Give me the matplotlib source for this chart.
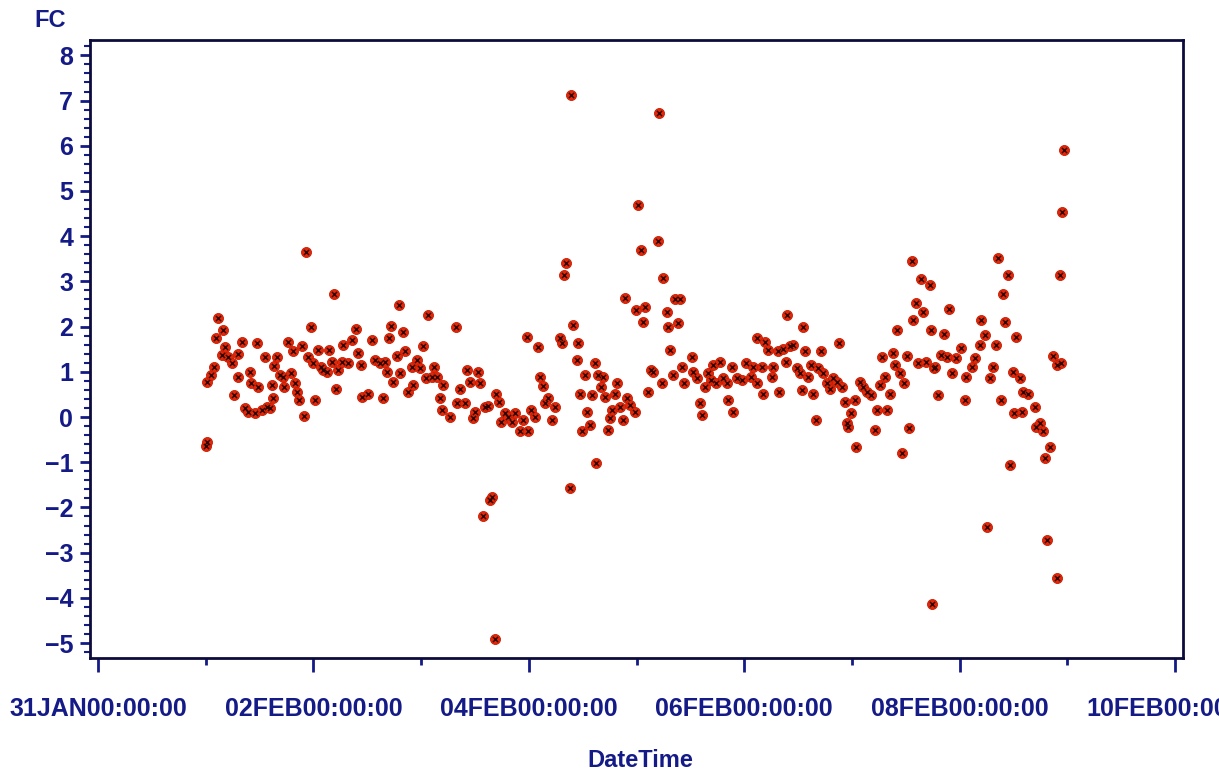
import datetime as dt
import matplotlib
matplotlib.use('Agg')
import matplotlib.pyplot as plt
import matplotlib.dates as mdates
from matplotlib.ticker import MultipleLocator, FuncFormatter

# hours after 01FEB00:00:00 and the FC value
hours = [
    0.0, 0.3, 0.2, 1.2, 1.9, 2.2, 2.7, 3.6, 3.9, 4.3, 5.0, 5.8, 6.4, 7.1, 7.3, 8.0, 8.8, 9.5, 9.9, 10.2,
    11.0, 11.4, 11.7, 12.5, 13.2, 13.6, 14.3, 14.7, 14.9, 15.3, 16.0, 16.6, 17.3, 17.5, 18.3, 19.0, 19.5,
    19.9, 20.3, 20.8, 21.5, 22.0, 22.3, 22.9, 23.5, 24.0, 24.4, 25.1, 25.7, 26.2, 27.0, 27.5, 28.1, 28.7,
    29.0, 29.5, 30.3, 30.7, 31.8, 32.5, 33.4, 34.0, 34.5, 34.8, 36.2, 37.0, 37.7, 38.8, 39.6, 39.9, 40.3,
    40.9, 41.4, 41.8, 42.6, 43.1, 43.4, 43.9, 44.4, 45.1, 45.9, 46.3, 47.1, 47.7, 48.5, 49.2, 49.5, 50.4,
    50.9, 51.6, 52.2, 52.6, 52.9, 54.4, 55.8, 56.1, 56.7, 57.8, 58.3, 58.9, 59.5, 60.0, 60.7, 61.1, 61.8,
    62.2, 63.0, 63.3, 63.7, 64.5, 64.8, 65.4, 65.9, 66.7, 67.4, 68.2, 68.9, 70.0, 70.8, 71.5, 71.9, 72.6,
    73.4, 74.1, 74.5, 75.1, 75.6, 76.3, 77.1, 77.8, 78.9, 79.5, 79.8, 80.4, 81.2, 81.4, 81.9, 82.7, 83.0,
    83.4, 83.8, 84.5, 84.9, 85.6, 86.1, 86.7, 86.9, 87.5, 88.1, 88.6, 89.0, 89.7, 90.1, 90.5, 91.2, 91.6,
    92.3, 93.0, 93.4, 93.8, 94.5, 95.6, 95.9, 96.3, 97.1, 97.5, 97.9, 98.6, 99.2, 99.6, 100.8, 101.0,
    101.6, 102.0, 102.7, 103.1, 103.4, 104.2, 104.6, 105.3, 105.7, 106.1, 106.6, 108.3, 108.6, 109.4,
    110.1, 110.5, 111.2, 112.0, 112.7, 113.1, 113.8, 114.6, 115.3, 116.1, 116.4, 117.2, 117.5, 118.3,
    119.4, 120.5, 121.6, 122.0, 122.8, 122.9, 123.9, 124.1, 124.6, 125.3, 126.1, 126.5, 127.6, 127.8,
    128.7, 129.3, 129.6, 130.2, 130.9, 131.7, 132.4, 132.8, 133.1, 133.5, 134.3, 134.8, 135.4, 136.0,
    136.5, 137.0, 137.6, 138.4, 139.1, 139.8, 140.6, 141.2, 141.7, 142.4, 142.8, 143.2, 143.9, 144.7,
    145.0, 145.8, 146.5, 147.3, 148.2, 149.1, 149.5, 150.2, 150.8, 151.3, 151.9, 152.5, 153.1, 153.6,
    154.1, 154.7, 155.1, 155.6, 156.3, 156.8, 157.3, 157.6, 158.3, 158.8, 159.5, 159.9, 160.6, 161.4,
    161.7, 161.8, 162.3, 162.5, 163.2, 163.9, 164.6, 165.1, 165.6, 166.2, 167.3, 168.3, 169.2, 169.5,
    170.7, 171.4, 172.5, 172.7, 173.6, 174.1, 174.7, 175.5, 176.2, 176.6, 177.2, 177.7, 178.2, 178.7,
    179.2, 179.9, 180.1, 180.5, 181.4, 181.8, 182.2, 183.3, 184.8, 185.1, 185.9, 186.6, 187.1, 187.4,
    188.1, 188.8, 189.6, 189.7, 190.3, 190.7, 190.8, 191.2,
]
fc = [
    -0.64, -0.55, 0.78, 0.93, 1.11, 1.74, 2.18, 1.37, 1.92, 1.54, 1.33, 1.19, 0.49, 1.39, 0.89, 1.67, 0.19, 0.12, 1.00, 0.75,
    0.08, 1.63, 0.67, 0.15, 1.33, 0.23, 0.19, 0.71, 0.41, 1.13, 1.33, 0.93, 0.89, 0.67, 1.67, 0.97, 1.45,
    0.75, 0.56, 0.38, 1.56, 0.02, 3.66, 1.33, 1.98, 1.19, 0.38, 1.48, 1.11, 1.04, 1.00, 1.48, 1.22, 2.72,
    0.63, 1.04, 1.22, 1.59, 1.19, 1.70, 1.95, 1.41, 1.15, 0.45, 0.52, 1.70, 1.26, 1.19, 0.41, 1.22, 1.00,
    1.74, 2.01, 0.78, 1.35, 2.48, 0.97, 1.89, 1.45, 0.56, 1.11, 0.71, 1.26, 1.08, 1.56, 0.86, 2.26, 0.89,
    1.11, 0.89, 0.41, 0.15, 0.71, 0.00, 2.00, 0.32, 0.63, 0.30, 1.04, 0.78, -0.03, 0.12, 1.00, 0.76, -2.20,
    0.23, 0.24, -1.84, -1.76, -4.90, 0.52, 0.34, -0.10, 0.08, 0.00, -0.10, 0.08, -0.32, -0.07, 1.78, -0.32, 0.15,
    0.00, 1.54, 0.89, 0.69, 0.30, 0.41, -0.07, 0.23, 1.74, 1.63, 3.14, 3.40, -1.57, 7.12, 2.04, 1.26, 1.63,
    0.52, -0.32, 0.93, 0.12, -0.18, 0.49, 1.19, -1.02, 0.93, 0.67, 0.89, 0.45, -0.29, -0.03, 0.15, 0.52, 0.75,
    0.23, -0.07, 2.63, 0.41, 0.27, 0.12, 2.37, 4.69, 3.69, 2.11, 2.44, 0.56, 1.05, 1.00, 3.90, 6.73,
    0.75, 3.07, 2.33, 2.00, 1.48, 0.93, 2.60, 2.09, 2.60, 1.11, 0.76, 1.33, 1.00, 0.86,
    0.30, 0.04, 0.67, 0.97, 0.82, 1.15, 0.75, 1.22, 0.86, 0.75, 0.38, 1.11, 0.12, 0.86,
    0.82, 1.19, 0.89, 1.11, 0.75, 1.74, 1.11, 0.51, 1.67, 1.48, 0.89, 1.11, 1.45, 0.56,
    1.50, 1.22, 2.26, 1.56, 1.59, 1.08, 0.97, 0.60, 2.00, 1.45, 0.89, 1.15, 0.52, -0.07,
    1.08, 1.45, 0.97, 0.75, 0.63, 0.86, 0.78, 1.64, 0.67, 0.34, -0.14, -0.21, 0.08, 0.38,
    -0.66, 0.78, 0.67, 0.56, 0.49, -0.29, 0.15, 0.71, 1.32, 0.89, 0.15, 0.52, 1.41, 1.15,
    1.92, 0.97, -0.80, 0.75, 1.35, -0.25, 3.44, 2.15, 2.53, 1.19, 3.05, 2.33, 1.22, 2.92,
    1.92, -4.14, 1.08, 1.11, 0.49, 1.37, 1.84, 1.33, 2.40, 0.97, 1.30, 1.52, 0.38, 0.89,
    1.11, 1.30, 1.59, 2.15, 1.81, -2.43, 0.86, 1.11, 1.59, 3.51, 0.38, 2.72, 2.11, 3.14,
    -1.06, 1.00, 0.08, 1.78, 0.86, 0.10, 0.56, 0.52, 0.23, -0.21, -0.14, -0.32, -0.91, -2.72,
    -0.67, 1.35, 1.15, -3.56, 3.14, 1.19, 4.54, 5.91,
]

start = dt.datetime(2010, 2, 1)
times = [start + dt.timedelta(hours=h) for h in hours]

blue = '#141a86'
plt.rcParams['font.family'] = ['Liberation Sans', 'DejaVu Sans']
plt.rcParams['font.weight'] = 'bold'

fig = plt.figure(figsize=(12.19, 7.73), dpi=100)
ax = fig.add_axes([0.0738, 0.1488, 0.8967, 0.7995])

ax.scatter(times, fc, s=52, marker='o', facecolor='#e3260c', edgecolor='#c41e00', linewidth=0.6, zorder=3)
ax.scatter(times, fc, s=14, marker='x', color='#2a0800', linewidth=1.0, zorder=4)

x0 = dt.datetime(2010, 1, 31)
x1 = dt.datetime(2010, 2, 10)
pad = dt.timedelta(days=0.0743)
ax.set_xlim(x0 - pad, x1 + pad)
ax.set_ylim(-5.33, 8.34)

ax.xaxis.set_major_locator(mdates.DayLocator(bymonthday=[31, 2, 4, 6, 8, 10]))
ax.xaxis.set_minor_locator(mdates.DayLocator())
ax.xaxis.set_major_formatter(FuncFormatter(lambda v, p: mdates.num2date(v).strftime('%d%b%H:%M:%S').upper()))
ax.yaxis.set_major_locator(MultipleLocator(1))
ax.yaxis.set_minor_locator(MultipleLocator(0.2))
ax.yaxis.set_major_formatter(FuncFormatter(lambda v, p: '%d' % v if v >= 0 else '\u2212%d' % -v))

ax.tick_params(axis='x', which='major', length=10, width=2, color=blue, pad=18,
               labelsize=18, labelcolor=blue)
ax.tick_params(axis='x', which='minor', length=5, width=2, color=blue)
ax.tick_params(axis='y', which='major', length=7, width=2, color=blue, pad=5,
               labelsize=18, labelcolor=blue)
ax.tick_params(axis='y', which='minor', length=4, width=1.5, color=blue)
for lab in ax.get_xticklabels() + ax.get_yticklabels():
    lab.set_fontweight('bold')

for sp in ax.spines.values():
    sp.set_color('#0c0c3c')
    sp.set_linewidth(2)

fig.text(0.041, 0.974, 'FC', color=blue, fontsize=17, fontweight='bold', ha='center', va='center')
fig.text(0.525, 0.016, 'DateTime', color=blue, fontsize=17, fontweight='bold', ha='center', va='center')

fig.savefig('out.png', dpi=100)
